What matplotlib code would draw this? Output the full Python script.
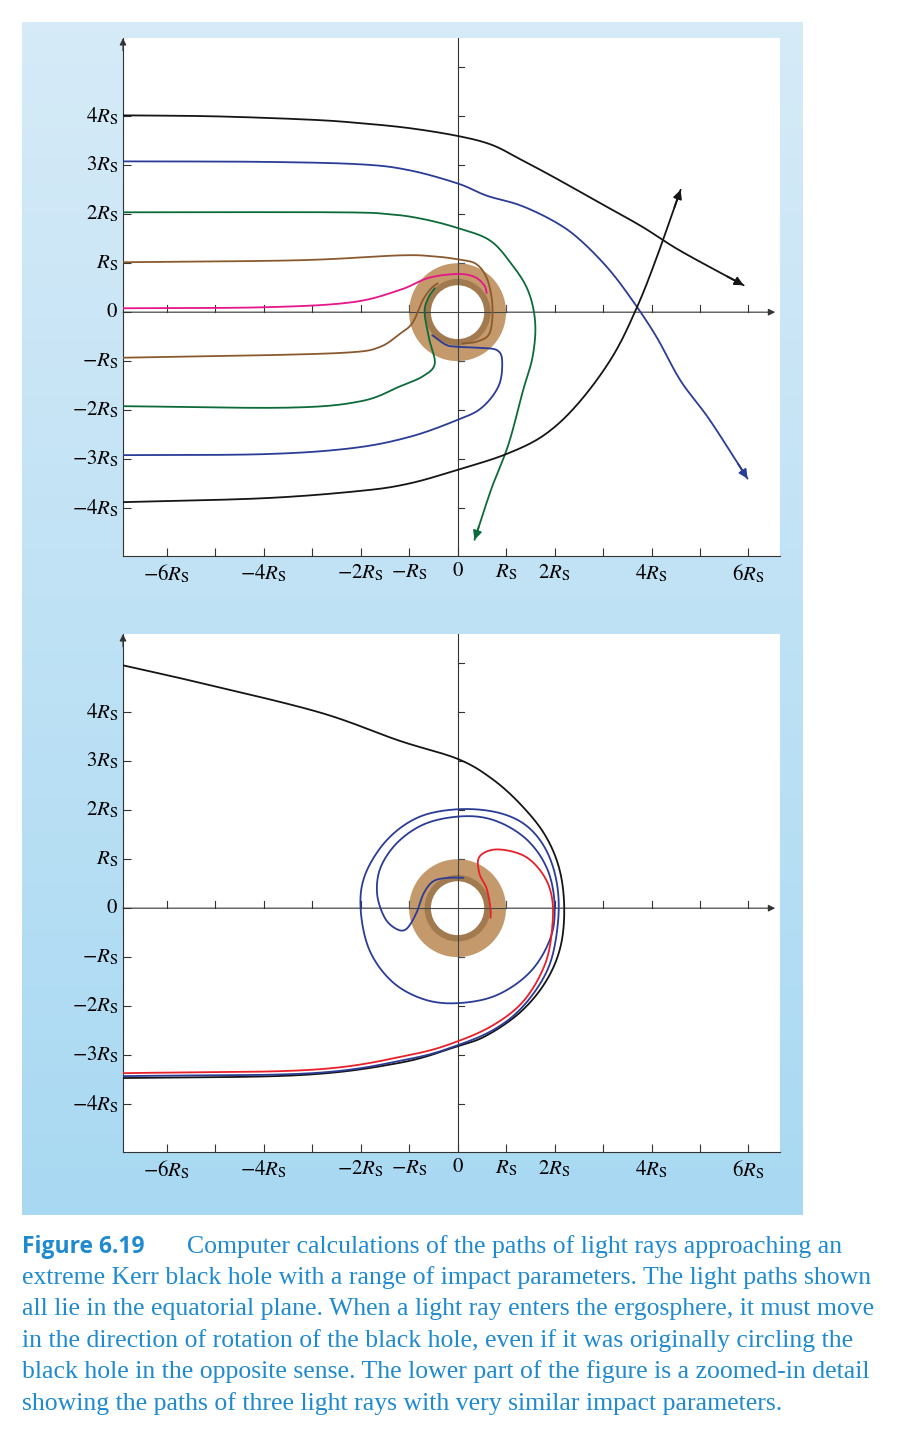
import matplotlib
matplotlib.use("Agg")
import matplotlib.pyplot as plt
import numpy as np
from matplotlib.patches import Circle

plt.rcParams['mathtext.fontset'] = 'stix'
plt.rcParams['font.family'] = ['Liberation Serif', 'DejaVu Serif']

# ---------------- data (units of R_S) ----------------
x_tick_vals = [-6, -4, -2, -1, 0, 1, 2, 4, 6]
x_tick_labels = [r'$-6R_\mathrm{S}$', r'$-4R_\mathrm{S}$', r'$-2R_\mathrm{S}$', r'$-R_\mathrm{S}$', r'$0$',
                 r'$R_\mathrm{S}$', r'$2R_\mathrm{S}$', r'$4R_\mathrm{S}$', r'$6R_\mathrm{S}$']
y_tick_vals = [4, 3, 2, 1, 0, -1, -2, -3, -4]
y_tick_labels = [r'$4R_\mathrm{S}$', r'$3R_\mathrm{S}$', r'$2R_\mathrm{S}$', r'$R_\mathrm{S}$', r'$0$',
                 r'$-R_\mathrm{S}$', r'$-2R_\mathrm{S}$', r'$-3R_\mathrm{S}$', r'$-4R_\mathrm{S}$']

# top panel rays
top_black_up = [(-6.9,4.02),(-5,4.0),(-3,3.93),(-2,3.86),(-1,3.76),(0,3.6),(0.7,3.42),(1.3,3.12),
                (2,2.75),(2.9,2.25),(3.8,1.75),(4.6,1.25),(5.9,0.55)]
top_blue_up = [(-6.9,3.08),(-4,3.07),(-2,3.02),(-1,2.9),(0,2.63),(0.6,2.38),(1.3,2.18),(2,1.85),
               (2.5,1.5),(3.1,0.9),(3.6,0.25),(4.1,-0.5),(4.6,-1.4),(5.2,-2.2),(5.98,-3.4)]
top_green_up = [(-6.9,2.04),(-2.5,2.04),(-1.4,2.0),(-0.7,1.9),(0,1.72),(0.66,1.47),(1.1,1.0),(1.45,0.45),
                (1.6,-0.2),(1.55,-0.9),(1.35,-1.6),(1.05,-2.7),(0.7,-3.6),(0.35,-4.65)]
top_brown_up = [(-6.9,1.02),(-3.3,1.06),(-1.2,1.16),(-0.5,1.14),(0,1.08),(0.39,0.98),(0.62,0.65),
                (0.72,0.1),(0.66,-0.43),(0.4,-0.6),(0.1,-0.64)]
top_pink = [(-6.9,0.08),(-4,0.1),(-2.2,0.2),(-1.2,0.45),(-0.6,0.7),(0,0.78),(0.35,0.72),(0.55,0.55),
            (0.6,0.39)]
top_brown_low = [(-6.9,-0.93),(-4,-0.88),(-2.2,-0.82),(-1.6,-0.71),(-1.2,-0.45),(-0.93,-0.22),
                 (-0.72,0.24),(-0.55,0.48),(-0.41,0.59)]
top_green_low = [(-6.9,-1.92),(-3.5,-1.95),(-2,-1.82),(-1.2,-1.52),(-0.7,-1.3),(-0.47,-1.05),
                 (-0.58,-0.57),(-0.68,0.0),(-0.6,0.3),(-0.47,0.49)]
top_blue_low = [(-6.9,-2.92),(-4,-2.9),(-2.2,-2.78),(-1,-2.55),(0,-2.2),(0.5,-1.95),(0.85,-1.5),
                (0.92,-1.0),(0.82,-0.78),(0.5,-0.73),(0.04,-0.71),(-0.23,-0.67),(-0.52,-0.47)]
top_black_low = [(-6.9,-3.88),(-4,-3.8),(-2,-3.65),(-1,-3.5),(0,-3.22),(1,-2.9),(1.8,-2.5),
                 (2.5,-1.85),(3.2,-0.9),(3.7,0.1),(4.1,1.1),(4.6,2.5)]

# bottom panel rays
bot_black = [(-6.9,4.96),(-5.3,4.6),(-2.85,4.0),(-1.2,3.42),(0,3.05),(0.7,2.65),(1.3,2.12),(1.8,1.5),
             (2.1,0.8),(2.2,0),(2.12,-0.8),(1.82,-1.5),(1.3,-2.12),(0.6,-2.6),(0,-2.82),(-1.2,-3.16),
             (-3.26,-3.41),(-6.9,-3.47)]
bot_blue = [(-6.9,-3.43),(-3,-3.37),(-1,-3.08),(0,-2.8),(0.8,-2.45),(1.4,-1.95),(1.88,-1.2),
            (2.07,-0.3),(2.05,0.5),(1.82,1.2),(1.4,1.7),(0.8,1.96),(0,2.02),(-0.8,1.86),(-1.45,1.4),
            (-1.9,0.7),(-2.0,0),(-1.82,-0.85),(-1.35,-1.5),(-0.7,-1.86),(0,-1.94),(0.8,-1.78),
            (1.5,-1.3),(1.92,-0.6),(2.0,0.1),(1.85,0.8),(1.45,1.38),(0.85,1.76),(0.2,1.88),(-0.6,1.75),
            (-1.2,1.38),(-1.58,0.85),(-1.66,0.3),(-1.5,-0.2),(-1.25,-0.43),(-1.05,-0.42),(-0.85,-0.1),
            (-0.7,0.3),(-0.5,0.55),(-0.2,0.62),(0.12,0.62)]
bot_red = [(-6.9,-3.37),(-3,-3.3),(-1,-3.0),(0,-2.72),(0.8,-2.35),(1.4,-1.85),(1.82,-1.1),(1.96,-0.3),
           (1.93,0.3),(1.72,0.75),(1.35,1.08),(0.8,1.2),(0.45,1.05),(0.45,0.71),(0.6,0.4),(0.68,0.0),
           (0.68,-0.2)]

BLACK, BLUE, GREEN, BROWN, PINK, RED = '#151515', '#2b3c96', '#0d6b3a', '#8a5a2e', '#e5158a', '#e8202a'

W, H = 904, 1437
fig = plt.figure(figsize=(W/100, H/100), dpi=100)

bg = fig.add_axes([22/W, 1-1215/H, (803-22)/W, (1215-22)/H])
g = np.linspace(0, 1, 256)[:, None]
c0 = np.array([0.84, 0.92, 0.97]); c1 = np.array([0.66, 0.85, 0.95])
img = c0[None, None, :]*(1-g[..., None]) + c1[None, None, :]*g[..., None]
img = np.repeat(img, 2, axis=1)
bg.imshow(img, aspect='auto', extent=[0, 1, 0, 1])
bg.axis('off')

XL, YL = (-6.9, 6.65), (-4.98, 5.6)


def smooth(pts, n=20):
    """Catmull-Rom rendering of a traced polyline (drawing only)."""
    p = np.array(pts, dtype=float)
    p = np.vstack([2*p[0]-p[1], p, 2*p[-1]-p[-2]])
    out = []
    t = np.linspace(0, 1, n, endpoint=False)[:, None]
    for i in range(1, len(p)-2):
        p0, p1, p2, p3 = p[i-1], p[i], p[i+1], p[i+2]
        out.append(0.5*((2*p1) + (-p0+p2)*t + (2*p0-5*p1+4*p2-p3)*t**2 + (-p0+3*p1-3*p2+p3)*t**3))
    out.append(p[-2][None, :])
    return np.vstack(out)


def panel(rect, rays, arrows):
    ax = fig.add_axes(rect)
    ax.set_xlim(*XL); ax.set_ylim(*YL)
    ax.set_facecolor('white')
    for s in ['top', 'right']:
        ax.spines[s].set_visible(False)
    for s in ['left', 'bottom']:
        ax.spines[s].set_color('#333333'); ax.spines[s].set_linewidth(0.8)
    ax.set_xticks(range(-6, 7)); ax.set_xticklabels([''] * 13)
    ax.set_yticks(range(-4, 5)); ax.set_yticklabels([''] * 9)
    ax.tick_params(direction='in', length=6, width=0.8, color='#333333')
    for v, l in zip(x_tick_vals, x_tick_labels):
        ax.text(v, YL[0] - 0.13, l, ha='center', va='top', fontsize=15)
    for v, l in zip(y_tick_vals, y_tick_labels):
        ax.text(XL[0] - 0.1, v, l, ha='right', va='center', fontsize=15)
    ax.annotate('', xy=(0, 1.005), xytext=(0, 0.97), xycoords='axes fraction',
                arrowprops=dict(arrowstyle='-|>', color='#333333', lw=0.8, mutation_scale=10), annotation_clip=False)
    ax.annotate('', xy=(6.55, 0), xytext=(XL[0], 0),
                arrowprops=dict(arrowstyle='-|>', color='#333333', lw=0.8, mutation_scale=10, shrinkA=0, shrinkB=0))
    ax.plot([0, 0], YL, color='#333333', lw=0.8)
    for t in range(-6, 7):
        ax.plot([t, t], [0, 0.14], color='#333333', lw=0.8)
    for t in range(-4, 6):
        ax.plot([0, 0.14], [t, t], color='#333333', lw=0.8)
    ax.add_patch(Circle((0, 0), 1.0, color='#c49a6c', lw=0, zorder=3))
    ax.add_patch(Circle((0, 0), 0.68, color='#a27a50', lw=0, zorder=3))
    ax.add_patch(Circle((0, 0), 0.55, color='white', lw=0, zorder=3))
    for t in (-1, 1):
        ax.plot([t, t], [0, 0.14], color='#555555', lw=0.8, zorder=3.5)
        ax.plot([0, 0.14], [t, t], color='#555555', lw=0.8, zorder=3.5)
    ax.plot([-1, 1], [0, 0], color='#444444', lw=0.8, zorder=3.5)
    ax.plot([0, 0], [-1, 1], color='#444444', lw=0.8, zorder=3.5)
    for pts, col in rays:
        s = smooth(pts)
        ax.plot(s[:, 0], s[:, 1], color=col, lw=1.3, zorder=4, solid_capstyle='round')
    for pts, col in arrows:
        s = smooth(pts)
        ax.annotate('', xy=s[-1], xytext=s[-6],
                    arrowprops=dict(arrowstyle='-|>', color=col, lw=1.3, mutation_scale=13, shrinkA=0, shrinkB=0),
                    zorder=5)
    return ax

aw = 657/W; ah = 518/H
top_rays = [(top_black_up, BLACK), (top_blue_up, BLUE), (top_green_up, GREEN), (top_brown_up, BROWN),
            (top_pink, PINK), (top_brown_low, BROWN), (top_green_low, GREEN), (top_blue_low, BLUE),
            (top_black_low, BLACK)]
panel([123/W, 1-556/H, aw, ah], top_rays,
      [(top_black_up, BLACK), (top_blue_up, BLUE), (top_green_up, GREEN), (top_black_low, BLACK)])
panel([123/W, 1-1152/H, aw, ah], [(bot_black, BLACK), (bot_blue, BLUE), (bot_red, RED)], [])

CAP = '#1f8ad0'
lines = ["extreme Kerr black hole with a range of impact parameters. The light paths shown",
         "all lie in the equatorial plane. When a light ray enters the ergosphere, it must move",
         "in the direction of rotation of the black hole, even if it was originally circling the",
         "black hole in the opposite sense. The lower part of the figure is a zoomed-in detail",
         "showing the paths of three light rays with very similar impact parameters."]
fig.text(22/W, 1-1247/H, 'Figure 6.19', color=CAP, fontsize=16.5, fontweight='bold',
         family=['Open Sans', 'DejaVu Sans'], va='center')
fig.text(187/W, 1-1247/H, 'Computer calculations of the paths of light rays approaching an',
         color=CAP, fontsize=18.5, va='center')
for i, l in enumerate(lines):
    fig.text(22/W, 1-(1278 + 31.3*i)/H, l, color=CAP, fontsize=18.5, va='center')

fig.savefig('out.png', dpi=100)
